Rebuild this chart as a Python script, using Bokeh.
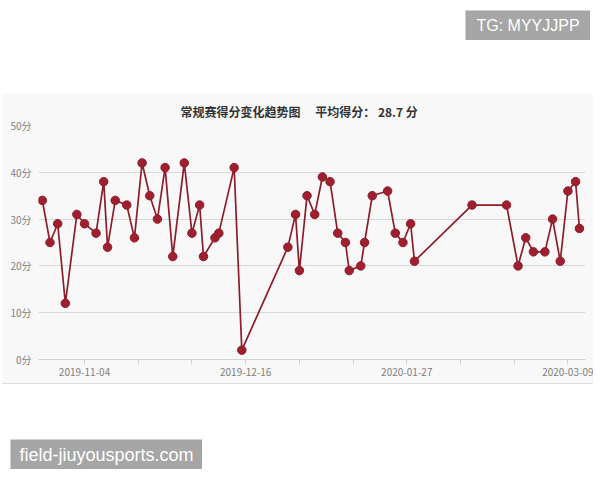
import numpy as np
import pandas as pd
from bokeh.plotting import figure
from bokeh.layouts import column, row
from bokeh.models import Range1d, FixedTicker, Label, ColumnDataSource, Spacer
from bokeh.embed import file_html
from bokeh.resources import INLINE

# ---- data ----
dates = [
    "2019-10-24", "2019-10-26", "2019-10-28", "2019-10-30", "2019-11-02",
    "2019-11-04", "2019-11-07", "2019-11-09", "2019-11-10", "2019-11-12",
    "2019-11-15", "2019-11-17", "2019-11-19", "2019-11-21", "2019-11-23",
    "2019-11-25", "2019-11-27", "2019-11-30", "2019-12-02", "2019-12-04",
    "2019-12-05", "2019-12-08", "2019-12-09", "2019-12-13", "2019-12-15",
    "2019-12-27", "2019-12-29", "2019-12-30", "2020-01-01", "2020-01-03",
    "2020-01-05", "2020-01-07", "2020-01-09", "2020-01-11", "2020-01-12",
    "2020-01-15", "2020-01-16", "2020-01-18", "2020-01-22", "2020-01-24",
    "2020-01-26", "2020-01-28", "2020-01-29", "2020-02-13", "2020-02-22",
    "2020-02-25", "2020-02-27", "2020-02-29", "2020-03-03", "2020-03-05",
    "2020-03-07", "2020-03-09", "2020-03-11", "2020-03-12",
]
points = [
    34, 25, 29, 12, 31, 29, 27, 38, 24, 34,
    33, 26, 42, 35, 30, 41, 22, 42, 27, 33,
    22, 26, 27, 41, 2, 24, 31, 19, 35, 31,
    39, 38, 27, 25, 19, 20, 25, 35, 36, 27,
    25, 29, 21, 33, 33, 20, 26, 23, 23, 30,
    21, 36, 38, 28,
]
y_ticks = [0, 10, 20, 30, 40, 50]
y_tick_labels = ["0分", "10分", "20分", "30分", "40分", "50分"]
x_tick_dates = ["2019-11-04", "2019-11-18", "2019-12-02", "2019-12-16", "2019-12-30",
                "2020-01-13", "2020-01-27", "2020-02-10", "2020-02-24", "2020-03-09"]
x_tick_labels = ["2019-11-04", "", "", "2019-12-16", "", "", "2020-01-27", "", "", "2020-03-09"]
x_start, x_end = "2019-10-23", "2020-03-13 14:00"
chart_title = "常规赛得分变化趋势图"
avg_label = "平均得分："
watermark_top = "TG: MYYJJPP"
watermark_bottom = "field-jiuyousports.com"

cjk = "Noto Sans CJK SC"
card_bg = "#f8f8f8"
mark_bg = "#a6a6a6"

# ---- chart card ----
x = pd.to_datetime(dates)
src = ColumnDataSource(dict(x=x, y=points))
avg = np.mean(points)

p = figure(width=591, height=290, x_axis_type="datetime",
           x_range=Range1d(pd.Timestamp(x_start), pd.Timestamp(x_end)),
           y_range=Range1d(0, 50),
           output_backend="svg", toolbar_location=None,
           min_border_left=36, min_border_right=8,
           min_border_top=32, min_border_bottom=24,
           background_fill_color=card_bg, border_fill_color=card_bg,
           outline_line_color=None)

p.title.text = f"{chart_title}\u3000\u00a0{avg_label} {avg:.1f} 分"
p.title.align = "left"
p.title.offset = 142
p.title.text_font = cjk
p.title.text_font_size = "12px"
p.title.text_font_style = "bold"
p.title.text_color = "#333333"
p.title.standoff = 12

yax = p.yaxis[0]
yax.ticker = FixedTicker(ticks=y_ticks)
yax.major_label_overrides = {t: l for t, l in zip(y_ticks, y_tick_labels)}
yax.axis_line_color = None
yax.major_tick_line_color = None
yax.minor_tick_line_color = None
yax.major_tick_out = 0
yax.major_label_standoff = 7
yax.major_label_text_font = cjk
yax.major_label_text_font_size = "10px"
yax.major_label_text_color = "#808080"

tick_ms = [pd.Timestamp(d).value / 1e6 for d in x_tick_dates]
xax = p.xaxis[0]
xax.ticker = FixedTicker(ticks=tick_ms)
xax.major_label_overrides = {t: l for t, l in zip(tick_ms, x_tick_labels)}
xax.axis_line_color = "#cfd3d8"
xax.major_tick_line_color = "#cfd3d8"
xax.minor_tick_line_color = None
xax.major_tick_in = 0
xax.major_tick_out = 5
xax.major_label_standoff = 3
xax.major_label_text_font = cjk
xax.major_label_text_font_size = "10px"
xax.major_label_text_color = "#808080"

p.xgrid.grid_line_color = None
p.ygrid.ticker = FixedTicker(ticks=y_ticks)
p.ygrid.grid_line_color = "#d9d9d9"
p.ygrid.grid_line_width = 1

p.line("x", "y", source=src, line_color="#8c1d2b", line_width=1.7)
p.scatter("x", "y", source=src, size=8.5, fill_color="#a01f2e", line_color="#8c1d2b", line_width=1)


# ---- watermark boxes ----
def badge(text, w, h, size):
    b = figure(width=w, height=h, output_backend="svg", toolbar_location=None,
               x_axis_location=None, y_axis_location=None,
               min_border=0, outline_line_color=None,
               background_fill_color=mark_bg, border_fill_color=mark_bg)
    b.grid.visible = False
    b.add_layout(Label(x=w / 2, y=h / 2, x_units="screen", y_units="screen",
                       text=text, text_align="center", text_baseline="middle",
                       text_font="Liberation Sans", text_font_size=size,
                       text_color="white"))
    return b


tg = badge(watermark_top, 125, 30, "16px")
fd = badge(watermark_bottom, 192, 30, "18px")

line_under = Spacer(width=591, height=1, styles={"background-color": "#dedede"})

layout = column(
    Spacer(width=10, height=10),
    row(Spacer(width=465, height=30), tg),
    Spacer(width=10, height=53),
    row(Spacer(width=2, height=290), p),
    row(Spacer(width=2, height=1), line_under),
    Spacer(width=10, height=55),
    row(Spacer(width=10, height=30), fd),
)

open("out.html", "w").write(file_html(layout, INLINE))
